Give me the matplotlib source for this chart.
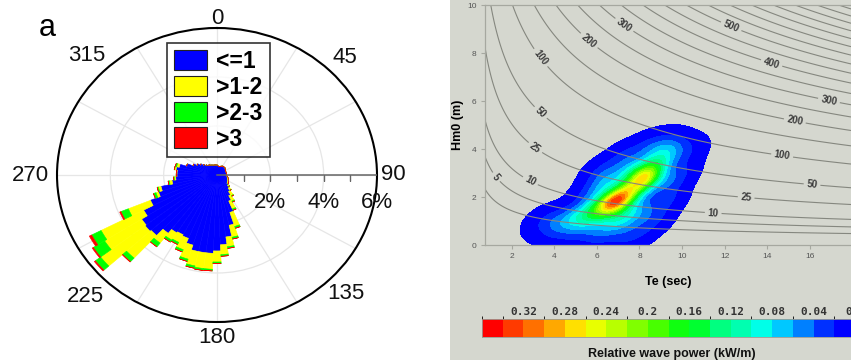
import numpy as np
import matplotlib
matplotlib.use("Agg")
import matplotlib.pyplot as plt
from matplotlib.colors import ListedColormap, BoundaryNorm
from matplotlib.patches import Patch, Rectangle
from matplotlib.cm import ScalarMappable

plt.rcParams['font.family'] = ['Liberation Sans', 'DejaVu Sans']

# ---------------- wave rose data (percent of time per 5-degree sector) ----------------
directions = np.arange(0, 360, 5)
hs_classes = ['<=1', '>1-2', '>2-3', '>3']
class_colors = ['#0000ff', '#ffff00', '#00ff00', '#ff0000']

pct_le1 = [0.41, 0.38, 0.35, 0.36, 0.38, 0.40, 0.42, 0.42, 0.42, 0.42, 0.40, 0.38,
           0.37, 0.36, 0.36, 0.36, 0.36, 0.36, 0.36, 0.37, 0.38, 0.40, 0.42, 0.44,
           0.46, 0.48, 0.50, 0.58, 0.68, 0.80, 0.95, 1.15, 1.60, 2.10, 2.55, 2.85,
           3.10, 3.20, 3.20, 3.20, 3.00, 2.80, 2.75, 2.80, 3.00, 3.35, 3.40, 3.35,
           3.10, 2.70, 2.30, 2.15, 1.70, 1.55, 1.50, 1.50, 1.55, 1.45, 1.20, 0.98,
           0.85, 0.75, 0.65, 0.57, 0.52, 0.50, 0.47, 0.45, 0.43, 0.42, 0.42, 0.41]
pct_1_2 = [0, 0, 0, 0, 0, 0, 0, 0, 0, 0, 0, 0,
           0, 0, 0, 0, 0, 0, 0, 0, 0.02, 0.03, 0.03, 0.03,
           0.04, 0.04, 0.04, 0.05, 0.10, 0.20, 0.25, 0.35, 0.60, 0.50, 0.40, 0.40,
           0.45, 0.65, 0.65, 0.60, 0.60, 0.50, 0.35, 0.35, 0.50, 1.25, 2.10, 1.65,
           1.80, 0.90, 0.10, 0.10, 0.10, 0.05, 0.03, 0.03, 0.05, 0.10, 0, 0,
           0, 0, 0, 0, 0, 0, 0, 0, 0, 0, 0, 0]
pct_2_3 = [0, 0, 0, 0, 0, 0, 0, 0, 0, 0, 0, 0,
           0, 0, 0, 0, 0, 0, 0, 0, 0, 0, 0, 0,
           0, 0, 0.01, 0.02, 0.02, 0.03, 0.05, 0.06, 0.08, 0.08, 0.07, 0.07,
           0.07, 0.07, 0.08, 0.10, 0.10, 0.10, 0.10, 0.10, 0.20, 0.20, 0.25, 0.50,
           0.40, 0.30, 0.10, 0.05, 0.05, 0.03, 0, 0, 0.02, 0.05, 0, 0,
           0, 0, 0, 0, 0, 0, 0, 0, 0, 0, 0, 0]
pct_gt3 = [0, 0, 0, 0, 0, 0, 0, 0, 0, 0, 0, 0,
           0, 0, 0, 0, 0, 0, 0, 0, 0, 0, 0, 0,
           0, 0, 0, 0, 0, 0, 0, 0, 0, 0, 0, 0,
           0, 0, 0, 0, 0, 0, 0, 0, 0, 0.02, 0.05, 0.05,
           0.10, 0.05, 0, 0, 0, 0, 0, 0, 0, 0, 0, 0,
           0, 0, 0, 0, 0, 0, 0, 0, 0, 0, 0, 0]

angle_labels = [0, 45, 90, 135, 180, 225, 270, 315]
angle_label_r = [6.4, 6.8, 6.6, 6.85, 6.65, 7.0, 7.0, 6.9]
radial_ticks = [2, 4, 6]

# ---------------- wave power / sea-state density data ----------------
power_coef = 0.49            # P = 0.49 * Hm0^2 * Te  (kW/m)
power_labeled = [5, 10, 25, 50, 100, 200, 300, 400, 500]
power_unlabeled = [2] + [150, 250, 350, 450] + list(range(550, 901, 50))
power_label_pos = [(1.30, 2.85), (2.86, 2.64), (3.09, 4.03), (3.33, 5.49),
                   (3.33, 7.78), (5.59, 8.47), (7.29, 9.17),
                   (12.3, 9.1), (14.2, 7.57), (16.9, 6.04), (15.3, 5.2),
                   (14.7, 3.75), (16.1, 2.5), (13.0, 1.9), (11.46, 1.32)]

# sea-state clusters: energy period Te (s), Hm0 (m), relative weight
state_te = [3.5, 4.2, 4.9, 5.5, 6.0, 5.0, 6.2, 6.85, 7.5, 8.25, 7.0, 7.8, 7.6, 6.4,
            8.8, 9.4, 10.2, 8.8, 9.3, 7.3,
            6.3, 7.3, 5.6, 8.3, 9.3, 8.6, 9.2, 9.8, 7.9, 6.2, 4.1]
state_hm = [0.95, 1.0, 1.05, 1.2, 0.7, 0.5, 1.5, 1.8, 2.2, 2.8, 1.0, 1.4, 3.0, 2.5,
            3.4, 3.9, 3.9, 4.1, 2.6, 0.4,
            3.0, 3.6, 2.0, 4.0, 4.1, 1.1, 1.9, 3.0, 0.5, 0.3, 0.6]
state_w = [0.06, 0.10, 0.16, 0.25, 0.12, 0.06, 0.40, 1.00, 0.55, 0.90, 0.25, 0.20, 0.25, 0.20,
           0.30, 0.12, 0.07, 0.06, 0.10, 0.06,
           0.10, 0.10, 0.09, 0.08, 0.08, 0.10, 0.10, 0.08, 0.06, 0.05, 0.05]
kernel_te, kernel_hm, kernel_corr = 0.55, 0.38, 0.4

cbar_bounds = [round(0.02 * i, 2) for i in range(19)]
cbar_colors = ['#0000ff', '#0030ff', '#0080ff', '#00c8ff', '#00ffe8', '#00ffb0',
               '#00ff80', '#00ff30', '#10ff10', '#48ff00', '#80ff00', '#b8ff00',
               '#e8ff00', '#ffe000', '#ffa800', '#ff7000', '#ff3a00', '#ff0000']
cbar_ticks = [0.32, 0.28, 0.24, 0.2, 0.16, 0.12, 0.08, 0.04, 0.0]
cbar_ticklabels = ['0.32', '0.28', '0.24', '0.2', '0.16', '0.12', '0.08', '0.04', '0.0']

W, H = 851, 363
fig = plt.figure(figsize=(W / 100, H / 100), dpi=100)
fig.patch.set_facecolor('white')

def fx(px):
    return px / W

def fy(py):
    return 1 - py / H

# ================= left: wave rose =================
ax = fig.add_axes([fx(57), fy(322), fx(320), 294 / H], projection='polar')
ax.set_aspect('auto')
ax.set_theta_zero_location('N')
ax.set_theta_direction(-1)
theta = np.deg2rad(directions)
width = np.deg2rad(5)
bottom = np.zeros(len(directions))
for vals, col in zip([pct_le1, pct_1_2, pct_2_3, pct_gt3], class_colors):
    vals = np.asarray(vals, float)
    ax.bar(theta, vals, width=width, bottom=bottom, color=col, edgecolor=col,
           linewidth=0.4, align='center', zorder=3)
    bottom = bottom + vals
ax.set_ylim(0, 6)
ax.set_thetagrids(range(0, 360, 30), labels=[''] * 12)
ax.set_rgrids([2, 4], labels=['', ''])
ax.grid(True, color='#e6e6e6', linewidth=0.9)
ax.spines['polar'].set_color('black')
ax.spines['polar'].set_linewidth(1.5)
ax.tick_params(axis='x', pad=0, length=0)
# radial scale along the east axis
ax.plot([np.pi / 2, np.pi / 2], [0, 6], color='#666666', lw=1.1, zorder=4)
ax.plot([np.pi / 2] * 5, [1, 2, 3, 4, 5], ls='none', marker=3, ms=4,
        mec='#666666', mew=1.0, zorder=4)
for deg, r in zip(angle_labels, angle_label_r):
    ax.text(np.deg2rad(deg), r, str(deg), ha='center', va='center', fontsize=16,
            color='#111111', clip_on=False)
for r in radial_ticks:
    ax.annotate(f'{r}%', xy=(np.pi / 2, r), xytext=(0, -19.5), textcoords='offset points',
                ha='center', va='center', fontsize=16, color='#111111', annotation_clip=False)

handles = [Patch(facecolor=c, edgecolor='#222222', linewidth=0.8) for c in class_colors]
leg = ax.legend(handles, hs_classes, loc='upper left', bbox_to_anchor=(fx(167), fy(43)),
                bbox_transform=fig.transFigure, frameon=True, fancybox=False,
                prop={'weight': 'bold', 'size': 16.5}, handlelength=1.45, handleheight=1.0,
                labelspacing=0.12, borderpad=0.3, handletextpad=0.4, borderaxespad=0)
leg.get_frame().set_edgecolor('black')
leg.get_frame().set_linewidth(1.2)

fig.text(fx(47), fy(28), 'a', fontsize=22, ha='center', va='center')

# ================= right: Hm0-Te wave power diagram =================
fig.patches.append(Rectangle((fx(450), fy(360)), 1 - fx(450), 1 - fy(360) + 0.01,
                             transform=fig.transFigure, facecolor='#d5d7cf',
                             edgecolor='none', zorder=-10))

ax2 = fig.add_axes([fx(485), fy(245), fx(366), 240 / H])
ax2.set_facecolor('none')
ax2.set_xlim(0.75, 17.93)
ax2.set_ylim(0, 10)

te = np.linspace(0.75, 17.93, 500)
hm = np.linspace(0, 10, 400)
TE, HM = np.meshgrid(te, hm)
power = power_coef * HM ** 2 * TE

# kernel density of the sea-state clusters
dens = np.zeros_like(TE)
for t0, h0, w0 in zip(state_te, state_hm, state_w):
    u = (TE - t0) / kernel_te
    v = (HM - h0) / kernel_hm
    q = (u ** 2 - 2 * kernel_corr * u * v + v ** 2) / (1 - kernel_corr ** 2)
    dens += w0 * np.exp(-0.5 * q)
dens *= 0.335 / dens.max()

cmap = ListedColormap(cbar_colors)
norm = BoundaryNorm(cbar_bounds, cmap.N)
fill_levels = [0.002] + cbar_bounds[1:]
ax2.contourf(TE, HM, dens, levels=fill_levels, cmap=cmap, norm=norm, zorder=1)

line_kw = dict(colors='#85877f', linewidths=0.8, zorder=2)
ax2.contour(TE, HM, power, levels=power_unlabeled, **line_kw)
cs = ax2.contour(TE, HM, power, levels=power_labeled, **line_kw)
lbls = ax2.clabel(cs, manual=power_label_pos, inline=True, inline_spacing=3,
                  fmt='%d', fontsize=7)
for t in lbls:
    t.set_fontweight('bold')
    t.set_color('#3a3a3a')

ax2.spines['right'].set_visible(False)
for side in ['left', 'bottom', 'top']:
    ax2.spines[side].set_color('#a6a8a0')
    ax2.spines[side].set_linewidth(0.9)
ax2.set_xticks([2, 4, 6, 8, 10, 12, 14, 16])
ax2.set_yticks([0, 2, 4, 6, 8, 10])
ax2.tick_params(colors='#a6a8a0', labelcolor='#555555', labelsize=6, length=3, width=0.8, pad=3)
ax2.set_xlabel('Te (sec)', fontsize=9, fontweight='bold', labelpad=11)
ax2.set_ylabel('Hm0 (m)', fontsize=9, fontweight='bold', labelpad=2)

cax = fig.add_axes([fx(482), fy(337), fx(373), 18 / H])
cb = fig.colorbar(ScalarMappable(norm=norm, cmap=cmap), cax=cax, orientation='horizontal',
                  drawedges=True)
cax.invert_xaxis()
cb.outline.set_edgecolor('#9a9c94')
cb.outline.set_linewidth(0.6)
cb.dividers.set_color('#b0b0a8')
cb.dividers.set_linewidth(0.4)
cax.xaxis.set_ticks_position('top')
cb.set_ticks(cbar_ticks)
cb.set_ticklabels(cbar_ticklabels)
cax.tick_params(length=0, pad=1.5)
for t in cax.get_xticklabels():
    t.set_fontfamily('DejaVu Sans Mono')
    t.set_fontweight('bold')
    t.set_fontsize(8)
    t.set_color('#333333')
fig.text(fx(672), fy(354), 'Relative wave power (kW/m)', ha='center', va='center',
         fontsize=9, fontweight='bold', color='#111111')

fig.savefig('out.png', dpi=100)
